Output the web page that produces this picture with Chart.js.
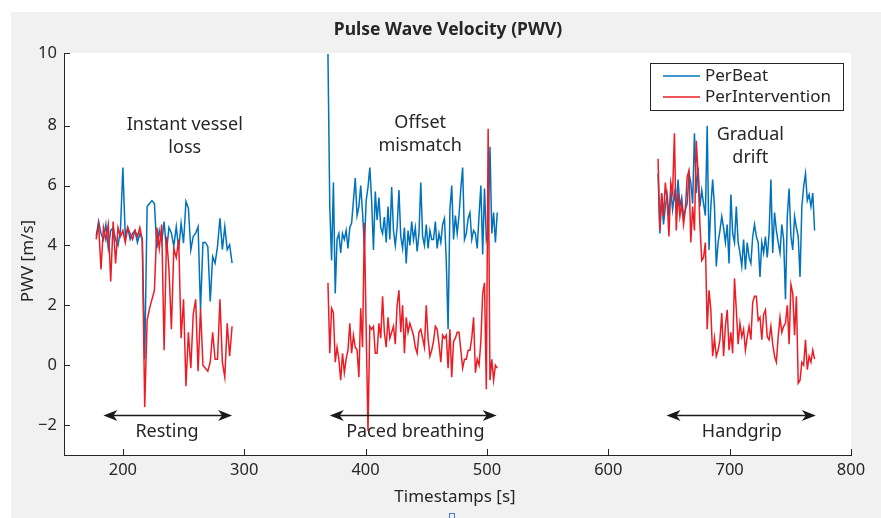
<!DOCTYPE html>
<html><head><meta charset="utf-8">
<script src="https://cdn.jsdelivr.net/npm/chart.js@4.4.1/dist/chart.umd.min.js"></script>
<style>html,body{margin:0;padding:0;background:#fff;}canvas{display:block;}</style>
</head><body>
<canvas id="c" width="881" height="518"></canvas>
<script>
// ---------- data ----------
const timesRest = [178,180,182,184,186,188,190,192,194,196,198,200,202,204,206,208,210,212,214,216,
  218,220,222,224,226,228,230,232,234,236,238,240,242,244,246,248,250,252,254,256,
  258,260,262,264,266,268,270,272,274,276,278,280,282,284,286,288,290];
const perBeatRest = [4.3,4.8,4.4,4.2,4.7,3.9,4.5,4.6,4.2,4.0,4.5,6.6,4.3,4.6,4.2,4.4,4.5,4.1,4.4,4.2,
  0.2,5.3,5.4,5.5,5.4,3.9,4.5,4.1,4.8,3.8,4.6,4.41,3.97,4.63,3.86,4.74,4.08,5.47,5.25,3.85,
  4.3,4.41,4.63,1.86,4.1,4.1,3.97,2.13,3.63,3.41,3.97,4.91,3.86,4.63,3.86,4.02,3.41];
const perIntRest = [4.2,4.7,3.2,4.6,4.2,4.7,2.8,4.8,3.4,4.6,4.3,4.5,4.1,4.6,4.4,4.2,4.5,4.3,4.6,4.2,
  -1.4,1.5,1.9,2.2,2.5,4.6,3.9,4.7,0.5,4.3,3.2,1.2,3.9,3.6,4.2,0.9,2.2,-0.7,1.1,-0.1,
  1.7,2.2,-0.2,1.9,0.0,-0.1,-0.2,0.1,1.1,0.2,0.2,2.2,0.1,-0.4,1.4,0.3,1.3];

const timesPaced = [369,370.5,372,373.5,375,376.5,378,379.5,381,382.5,
  384,385.5,387,388.5,390,391.5,393,394.5,396,397.5,
  399,400.5,402,403.5,405,406.5,408,409.5,411,412.5,
  414,415.5,417,418.5,420,421.5,423,424.5,426,427.5,
  429,430.5,432,433.5,435,436.5,438,439.5,441,442.5,
  444,445.5,447,448.5,450,451.5,453,454.5,456,457.5,
  459,460.5,462,463.5,465,466.5,468,469.5,471,472.5,
  474,475.5,477,478.5,480,481.5,483,484.5,486,487.5,
  489,490.5,492,493.5,495,496.5,498,499.5,501,502.5,
  504,505.5,507,508.5];
const perBeatPaced = [10.4,5.3,3.5,6.1,2.4,4.2,4.4,3.75,4.4,4.2,
  4.5,3.9,4.6,4.75,5.5,6.25,5.0,5.3,6.0,5.1,
  3.95,5.5,5.95,6.6,5.5,3.85,5.8,4.85,5.6,4.6,
  4.4,4.95,4.1,5.3,4.2,5.95,4.5,4.0,4.6,5.85,
  4.3,3.9,4.6,3.4,4.5,4.0,4.8,4.2,4.6,3.8,
  4.4,6.1,4.3,4.0,4.7,3.9,4.5,4.2,4.2,4.8,
  3.9,4.4,4.1,4.7,4.9,3.5,1.2,5.2,6.0,4.2,
  5.0,4.4,5.0,5.9,6.6,4.2,4.4,4.9,5.1,4.2,
  4.5,4.4,3.9,5.0,6.0,3.7,5.9,4.2,4.5,7.3,
  4.4,5.1,4.1,5.1];
const perIntPaced = [2.75,0.4,1.9,1.75,0.1,0.6,0.2,-0.5,0.4,-0.25,
  0.2,0.5,1.4,0.4,1.0,0.6,0.5,-0.4,1.9,0.6,
  4.75,1.2,-2.2,1.3,1.2,1.3,0.4,0.4,1.4,0.9,
  2.3,1.1,0.6,1.6,0.9,1.1,1.3,0.7,2.0,2.5,
  1.1,2.0,0.4,1.6,1.1,1.4,1.2,1.0,0.6,0.4,
  1.1,1.2,0.9,0.6,2.0,0.9,0.3,0.5,0.8,1.3,
  1.2,0.7,0.1,1.0,0.9,1.0,-0.1,1.2,-0.4,0.8,
  0.9,1.1,1.1,0.5,-0.1,0.2,0.2,0.5,0.5,0.9,
  1.6,-0.25,0.2,0.0,0.8,2.4,2.75,-0.8,7.9,-0.5,
  0.2,-0.5,0.0,-0.1];

const timesGrip = [641,642.5,644,645.5,647,648.5,650,651.5,653,654.5,
  656,657.5,659,660.5,662,663.5,665,666.5,668,669.5,
  671,672.5,674,675.5,677,678.5,680,681.5,683,684.5,
  686,687.5,689,690.5,692,693.5,695,696.5,698,699.5,
  701,702.5,704,705.5,707,708.5,710,711.5,713,714.5,
  716,717.5,719,720.5,722,723.5,725,726.5,728,729.5,
  731,732.5,734,735.5,737,738.5,740,741.5,743,744.5,
  746,747.5,749,750.5,752,753.5,755,756.5,758,759.5,
  761,762.5,764,765.5,767,768.5,770];
const perBeatGrip = [6.4,4.4,5.7,4.7,5.3,5.7,4.97,5.85,5.2,5.75,
  5.3,6.2,5.3,5.6,4.97,5.2,5.4,6.4,6.1,5.4,
  7.75,5.75,6.6,5.3,5.85,5.4,5.0,8.0,3.85,5.3,
  6.2,5.3,3.3,4.1,4.5,4.97,4.6,4.1,4.7,3.4,
  5.7,4.4,4.1,5.3,4.1,3.75,3.3,4.2,3.2,4.1,
  3.6,3.4,4.3,4.7,4.3,4.1,2.95,4.1,3.75,4.3,
  3.6,4.4,6.2,3.75,5.1,4.5,4.1,3.75,4.7,4.2,
  2.2,4.97,5.9,4.3,3.85,4.97,4.6,4.3,2.95,5.3,
  5.97,6.4,5.5,5.7,5.3,5.75,4.5];
const perIntGrip = [6.9,4.5,5.75,4.97,6.1,5.5,4.3,6.1,5.75,7.75,
  4.5,5.75,4.97,5.4,4.7,5.2,6.3,6.5,4.1,5.3,
  4.5,7.5,6.4,4.7,3.5,3.6,4.1,1.2,2.5,1.85,
  0.3,0.9,0.3,0.5,0.85,1.74,0.3,1.3,1.85,0.5,
  1.1,0.4,2.9,1.85,0.7,1.4,0.95,1.2,0.5,0.95,
  1.3,0.85,2.1,2.3,2.3,1.5,1.6,0.85,1.7,1.85,
  0.95,0.85,1.3,0.7,0.3,0.1,0.95,1.6,1.1,1.3,
  1.4,2.0,0.7,2.7,2.4,1.0,2.3,-0.6,-0.5,0.1,
  0.0,0.85,-0.15,0.3,0.1,0.5,0.2];

const seriesNames = ['PerBeat', 'PerIntervention'];
const xTickValues = [200, 300, 400, 500, 600, 700, 800];
const yTickValues = [-2, 0, 2, 4, 6, 8, 10];
const yTickLabels = ['\u22122', '0', '2', '4', '6', '8', '10'];
const titleText = 'Pulse Wave Velocity (PWV)';
const xTitle = 'Timestamps [s]';
const yTitle = 'PWV [m/s]';

// annotations (data coordinates)
const phaseLabels = ['Resting', 'Paced breathing', 'Handgrip'];
const phaseStart = [184, 370.5, 648];
const phaseEnd = [290, 508, 771];
const phaseLabelX = [236.4, 441, 710];
const phaseArrowY = -1.68;
const phaseLabelY = -2.24;
const noteLines = [['Instant vessel', 'loss'], ['Offset', 'mismatch'], ['Gradual', 'drift']];
const noteX = [251, 445, 717];
const noteY = [8.02, 8.1, 7.7];

// ---------- build ----------
const X_MIN = 151.5, X_MAX = 800, Y_MIN = -3, Y_TOP = 10.43;
function seg(ts, vs) { return ts.map((t, i) => ({ x: t, y: vs[i] })); }
function joined(a, b, c) {
  return [...a, { x: 330, y: null }, ...b, { x: 575, y: null }, ...c];
}
const BLUE = '#0072bd', RED = '#ec1c24', INK = '#262626';
const FONT = '"Noto Sans", "DejaVu Sans", sans-serif';

const bgPlugin = {
  id: 'bg',
  beforeDraw(chart) {
    const ctx = chart.ctx, a = chart.chartArea;
    ctx.save();
    ctx.fillStyle = '#ffffff';
    ctx.fillRect(0, 0, chart.width, chart.height);
    ctx.fillStyle = '#f0f1f0';
    ctx.fillRect(11, 12, chart.width - 11, chart.height - 12);
    ctx.fillStyle = '#ffffff';
    ctx.fillRect(a.left, a.top, a.right - a.left, a.bottom - a.top);
    ctx.restore();
  }
};

function drawArrowHead(ctx, x, y, dir) {
  const L = 14, W = 5.5, back = 4;
  ctx.beginPath();
  ctx.moveTo(x, y);
  ctx.lineTo(x - dir * L, y - W);
  ctx.lineTo(x - dir * (L - back), y);
  ctx.lineTo(x - dir * L, y + W);
  ctx.closePath();
  ctx.fill();
}

const annoPlugin = {
  id: 'anno',
  afterDatasetsDraw(chart) {
    const ctx = chart.ctx, xs = chart.scales.x, ys = chart.scales.y, a = chart.chartArea;
    ctx.save();
    // inward tick marks
    ctx.strokeStyle = INK; ctx.lineWidth = 1;
    xs.ticks.forEach(t => {
      const px = Math.round(xs.getPixelForValue(t.value)) + 0.5;
      ctx.beginPath(); ctx.moveTo(px, a.bottom); ctx.lineTo(px, a.bottom - 6); ctx.stroke();
    });
    ys.ticks.forEach(t => {
      const py = Math.round(ys.getPixelForValue(t.value)) + 0.5;
      ctx.beginPath(); ctx.moveTo(a.left, py); ctx.lineTo(a.left + 6, py); ctx.stroke();
    });
    // notes
    ctx.fillStyle = INK;
    ctx.font = '18px ' + FONT;
    ctx.textAlign = 'center'; ctx.textBaseline = 'middle';
    noteLines.forEach((lines, i) => {
      const px = xs.getPixelForValue(noteX[i]);
      const py = ys.getPixelForValue(noteY[i]);
      lines.forEach((ln, j) => ctx.fillText(ln, px, py + j * 23));
    });
    // phase arrows
    ctx.strokeStyle = '#1a1a1a'; ctx.fillStyle = '#1a1a1a'; ctx.lineWidth = 1.6;
    phaseLabels.forEach((lab, i) => {
      const x1 = xs.getPixelForValue(phaseStart[i]);
      const x2 = xs.getPixelForValue(phaseEnd[i]);
      const py = ys.getPixelForValue(phaseArrowY);
      ctx.beginPath(); ctx.moveTo(x1 + 6, py); ctx.lineTo(x2 - 6, py); ctx.stroke();
      drawArrowHead(ctx, x1, py, -1);
      drawArrowHead(ctx, x2, py, 1);
      ctx.fillStyle = INK;
      ctx.fillText(lab, xs.getPixelForValue(phaseLabelX[i]), ys.getPixelForValue(phaseLabelY));
      ctx.fillStyle = '#1a1a1a';
    });
    // legend
    const lx = 650.5, ly = 63.5, lw = 193, lh = 47;
    ctx.fillStyle = '#ffffff'; ctx.fillRect(lx, ly, lw, lh);
    ctx.strokeStyle = INK; ctx.lineWidth = 1; ctx.strokeRect(lx, ly, lw, lh);
    const cols = [BLUE, RED];
    ctx.textAlign = 'left'; ctx.font = '17px ' + FONT;
    seriesNames.forEach((n, i) => {
      const yy = 76 + i * 21;
      ctx.strokeStyle = cols[i]; ctx.lineWidth = 1.5;
      ctx.beginPath(); ctx.moveTo(663, yy); ctx.lineTo(700, yy); ctx.stroke();
      ctx.fillStyle = INK; ctx.fillText(n, 705, yy);
    });
    // titles
    ctx.textAlign = 'center';
    ctx.font = 'bold 17.5px ' + FONT;
    ctx.fillText(titleText, 448, 30);
    ctx.font = '17px ' + FONT;
    ctx.fillText(xTitle, 455, 497);
    ctx.save();
    ctx.translate(28, 261); ctx.rotate(-Math.PI / 2);
    ctx.fillText(yTitle, 0, 0);
    ctx.restore();
    // small marker at bottom
    ctx.strokeStyle = '#3a7fd0'; ctx.lineWidth = 1;
    ctx.strokeRect(449.5, 513.5, 5, 5);
    ctx.restore();
  }
};

new Chart(document.getElementById('c'), {
  type: 'line',
  data: {
    datasets: [
      { label: seriesNames[1], data: joined(seg(timesRest, perIntRest), seg(timesPaced, perIntPaced), seg(timesGrip, perIntGrip)),
        borderColor: RED, borderWidth: 1.5, pointRadius: 0, tension: 0, spanGaps: false, order: 0 },
      { label: seriesNames[0], data: joined(seg(timesRest, perBeatRest), seg(timesPaced, perBeatPaced), seg(timesGrip, perBeatGrip)),
        borderColor: BLUE, borderWidth: 1.5, pointRadius: 0, tension: 0, spanGaps: false, order: 1 }
    ]
  },
  options: {
    responsive: false, animation: false, devicePixelRatio: 1,
    layout: { padding: { top: 53, right: 30, left: 0, bottom: 0 } },
    plugins: { legend: { display: false }, tooltip: { enabled: false } },
    scales: {
      x: {
        type: 'linear', min: X_MIN, max: X_MAX,
        afterBuildTicks: s => { s.ticks = xTickValues.map(v => ({ value: v })); },
        afterFit: s => { s.height = 63; },
        ticks: { color: INK, font: { family: FONT, size: 16.5 }, padding: 5, maxRotation: 0, autoSkip: false,
          callback: v => String(v) },
        grid: { display: false, drawTicks: false },
        border: { display: true, color: INK, width: 1 }
      },
      y: {
        type: 'linear', min: Y_MIN, max: Y_TOP,
        afterBuildTicks: s => { s.ticks = yTickValues.map(v => ({ value: v === 10 ? Y_TOP : v })); },
        afterFit: s => { s.width = 64; },
        ticks: { color: INK, font: { family: FONT, size: 16.5 }, padding: 7, autoSkip: false,
          callback: (v, i) => yTickLabels[i] },
        grid: { display: false, drawTicks: false },
        border: { display: true, color: INK, width: 1 }
      }
    }
  },
  plugins: [bgPlugin, annoPlugin]
});
</script>
</body></html>
